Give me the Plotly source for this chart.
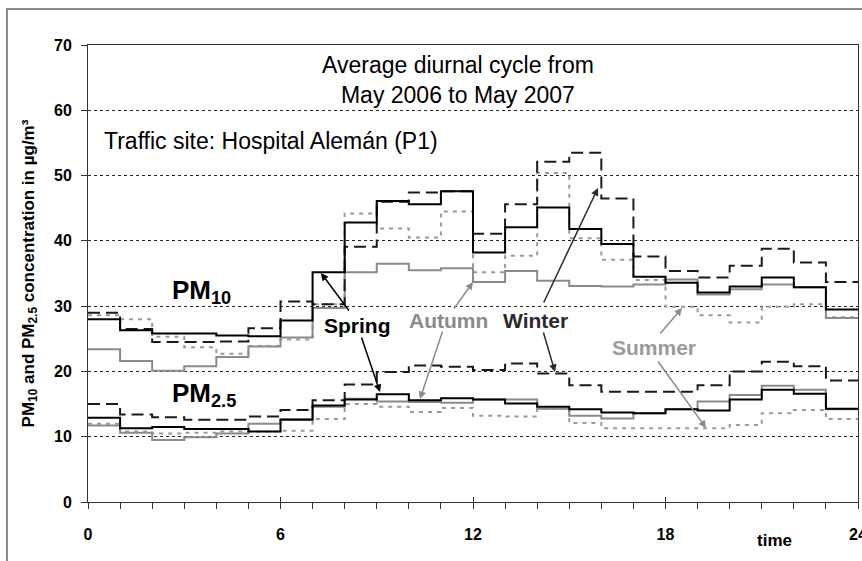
import plotly.graph_objects as go

hours = list(range(24))
x_ticks = [0, 6, 12, 18, 24]
y_ticks = [0, 10, 20, 30, 40, 50, 60, 70]

pm10_spring = [28.0, 26.3, 25.8, 25.8, 25.5, 25.4, 27.8, 35.2, 42.8, 46.1, 45.6, 47.6,
               38.2, 42.1, 45.1, 41.8, 39.5, 34.5, 33.6, 32.1, 33.0, 34.4, 32.9, 29.5]
pm10_autumn = [23.4, 21.6, 20.1, 20.8, 22.2, 23.8, 25.2, 29.7, 35.2, 36.5, 35.5, 35.8,
               33.7, 35.4, 33.9, 33.1, 33.0, 33.3, 34.1, 31.8, 32.6, 33.3, 32.9, 28.2]
pm10_winter = [29.0, 26.5, 24.5, 24.5, 24.6, 26.6, 30.7, 30.3, 39.1, 46.0, 47.4, 47.6,
               41.1, 45.6, 52.1, 53.5, 46.5, 37.6, 35.4, 34.4, 36.2, 38.8, 36.7, 33.7]
pm10_summer = [28.6, 28.0, 25.3, 23.7, 22.7, 23.9, 24.9, 30.3, 44.2, 41.9, 40.5, 44.5,
               35.2, 37.7, 50.4, 40.4, 37.1, 34.0, 29.9, 28.6, 27.5, 29.9, 30.3, 28.3]

pm25_spring = [12.9, 11.3, 11.5, 11.2, 11.2, 10.8, 12.6, 14.8, 15.7, 16.5, 15.6, 15.9,
               15.7, 15.1, 14.6, 14.2, 13.7, 13.6, 14.2, 14.0, 15.7, 17.2, 16.6, 14.3]
pm25_autumn = [11.7, 10.6, 9.5, 9.9, 10.5, 12.0, 12.7, 14.6, 15.8, 15.4, 15.3, 15.2,
               15.7, 15.7, 14.3, 13.2, 12.8, 13.6, 14.2, 15.4, 16.4, 17.8, 17.2, 14.2]
pm25_winter = [15.0, 13.4, 13.0, 12.6, 12.6, 13.1, 14.1, 15.6, 18.0, 19.9, 20.9, 20.7,
               20.2, 21.2, 19.7, 17.9, 16.9, 16.9, 16.9, 17.9, 20.0, 21.5, 20.8, 18.6]
pm25_summer = [12.0, 10.8, 10.5, 10.6, 10.8, 10.8, 10.9, 12.7, 15.0, 14.6, 13.8, 14.4,
               13.2, 13.1, 14.3, 12.1, 11.3, 11.3, 11.3, 11.3, 11.8, 13.6, 14.1, 12.7]

FONT = "Arial, 'Liberation Sans', sans-serif"
W, H = 862, 561
L, R, T, B = 88, 4, 45, 59
PW, PH = W - L - R, H - T - B


def px(xp):
    return (xp - L) / PW


def py(yp):
    return (H - B - yp) / PH


styles = {
    "summer": dict(color="#9a9a9a", width=2, dash="4px,5px"),
    "autumn": dict(color="#8a8a8a", width=2),
    "winter": dict(color="#1a1a1a", width=2, dash="12px,6px"),
    "spring": dict(color="#000000", width=2),
}

series = [
    ("summer", pm10_summer), ("summer", pm25_summer),
    ("autumn", pm10_autumn), ("autumn", pm25_autumn),
    ("winter", pm10_winter), ("winter", pm25_winter),
    ("spring", pm10_spring), ("spring", pm25_spring),
]

fig = go.Figure()
xs = hours + [24]
for name, vals in series:
    fig.add_trace(go.Scatter(x=xs, y=list(vals) + [vals[-1]], mode="lines",
                             line_shape="hv", line=styles[name],
                             showlegend=False, hoverinfo="skip"))

# overlay axis carrying the inner half of the major ticks
fig.add_trace(go.Scatter(x=[None], y=[None], xaxis="x2", showlegend=False))

fig.update_layout(
    width=W, height=H,
    margin=dict(l=L, r=R, t=T, b=B, autoexpand=False),
    paper_bgcolor="white", plot_bgcolor="white",
    font=dict(family=FONT, color="black"),
    xaxis=dict(range=[0, 24], tickvals=x_ticks, ticks="outside", ticklen=6,
               tickcolor="#333", tickwidth=1, automargin=False,
               minor=dict(dtick=1, ticks="outside", ticklen=6, tickcolor="#333", showgrid=False),
               showline=True, linecolor="#333", linewidth=1, mirror=True,
               showgrid=False, zeroline=False, ticklabeloverflow="allow",
               tickfont=dict(size=16, family=FONT, weight="bold"),
               ticklabelstandoff=12),
    xaxis2=dict(range=[0, 24], overlaying="x", anchor="y", tickvals=x_ticks,
                ticks="inside", ticklen=5, tickcolor="#333", showticklabels=False,
                showgrid=False, zeroline=False, showline=False, automargin=False),
    yaxis=dict(range=[0, 70], tickvals=y_ticks, ticks="outside", ticklen=6,
               tickcolor="#333", showline=True, linecolor="#333", linewidth=1,
               mirror=True, showgrid=True, gridcolor="#222", gridwidth=1,
               griddash="dot", zeroline=False, automargin=False,
               tickfont=dict(size=16, family=FONT, weight="bold"),
               ticklabelstandoff=6,
               title=dict(text="PM<sub>10</sub> and PM<sub>2.5</sub> concentration in µg/m³",
                          font=dict(size=17, family=FONT, weight="bold"), standoff=15)),
)

ann = []
ann.append(dict(text="Average diurnal cycle from<br>May 2006 to May 2007", x=px(458), y=py(80),
                xref="paper", yref="paper", showarrow=False, xanchor="center", yanchor="middle",
                font=dict(size=23, family=FONT)))
ann.append(dict(text="Traffic site: Hospital Alemán (P1)", x=px(102), y=py(141),
                xref="paper", yref="paper", showarrow=False, xanchor="left", yanchor="middle",
                font=dict(size=23, family=FONT)))
ann.append(dict(text="<b>PM<sub>10</sub></b>", x=px(170), y=py(291), xref="paper", yref="paper",
                showarrow=False, xanchor="left", yanchor="middle", font=dict(size=26, family=FONT)))
ann.append(dict(text="<b>PM<sub>2.5</sub></b>", x=px(170), y=py(394), xref="paper", yref="paper",
                showarrow=False, xanchor="left", yanchor="middle", font=dict(size=26, family=FONT)))
labels = [("Spring", 357, 325, "#000000"), ("Autumn", 448, 320, "#8a8a8a"),
          ("Winter", 535, 320, "#2a2a2a"), ("Summer", 654, 347, "#9a9a9a")]
for t, xx, yy, c in labels:
    ann.append(dict(text="<b>" + t + "</b>", x=px(xx), y=py(yy), xref="paper", yref="paper",
                    showarrow=False, xanchor="center", yanchor="middle",
                    font=dict(size=21, family=FONT, color=c)))
ann.append(dict(text="<b>time</b>", x=px(774), y=py(540), xref="paper", yref="paper",
                showarrow=False, xanchor="center", yanchor="middle", font=dict(size=17, family=FONT)))

arrows = [
    ((350, 312), (321, 273), "#000000"),
    ((361, 336), (380, 392), "#000000"),
    ((453, 310), (473, 282), "#8a8a8a"),
    ((443, 330), (420, 399), "#8a8a8a"),
    ((543, 304), (598, 188), "#2a2a2a"),
    ((543, 331), (555, 372), "#2a2a2a"),
    ((659, 335), (682, 308), "#8a8a8a"),
    ((657, 360), (706, 428), "#8a8a8a"),
]
for (tx, ty), (hx, hy), c in arrows:
    ann.append(dict(text="", x=px(hx), y=py(hy), xref="paper", yref="paper",
                    ax=tx - hx, ay=ty - hy, axref="pixel", ayref="pixel",
                    showarrow=True, arrowhead=2, arrowsize=1, arrowwidth=1.5,
                    arrowcolor=c, standoff=0, startstandoff=0))
fig.update_layout(annotations=ann)

fig.add_shape(type="rect", xref="paper", yref="paper",
              x0=px(7), x1=px(875), y0=py(575), y1=py(9),
              line=dict(color="#8c8c8c", width=2), fillcolor="rgba(0,0,0,0)", layer="below")

fig.write_html("out.html", config={"displayModeBar": False, "staticPlot": True})

# remove the browser's default page margin so the figure sits at the window origin
with open("out.html", "r", encoding="utf-8") as f:
    html = f.read()
html = html.replace("<head>", "<head><style>html,body{margin:0;padding:0;overflow:hidden;}</style>", 1)
with open("out.html", "w", encoding="utf-8") as f:
    f.write(html)
